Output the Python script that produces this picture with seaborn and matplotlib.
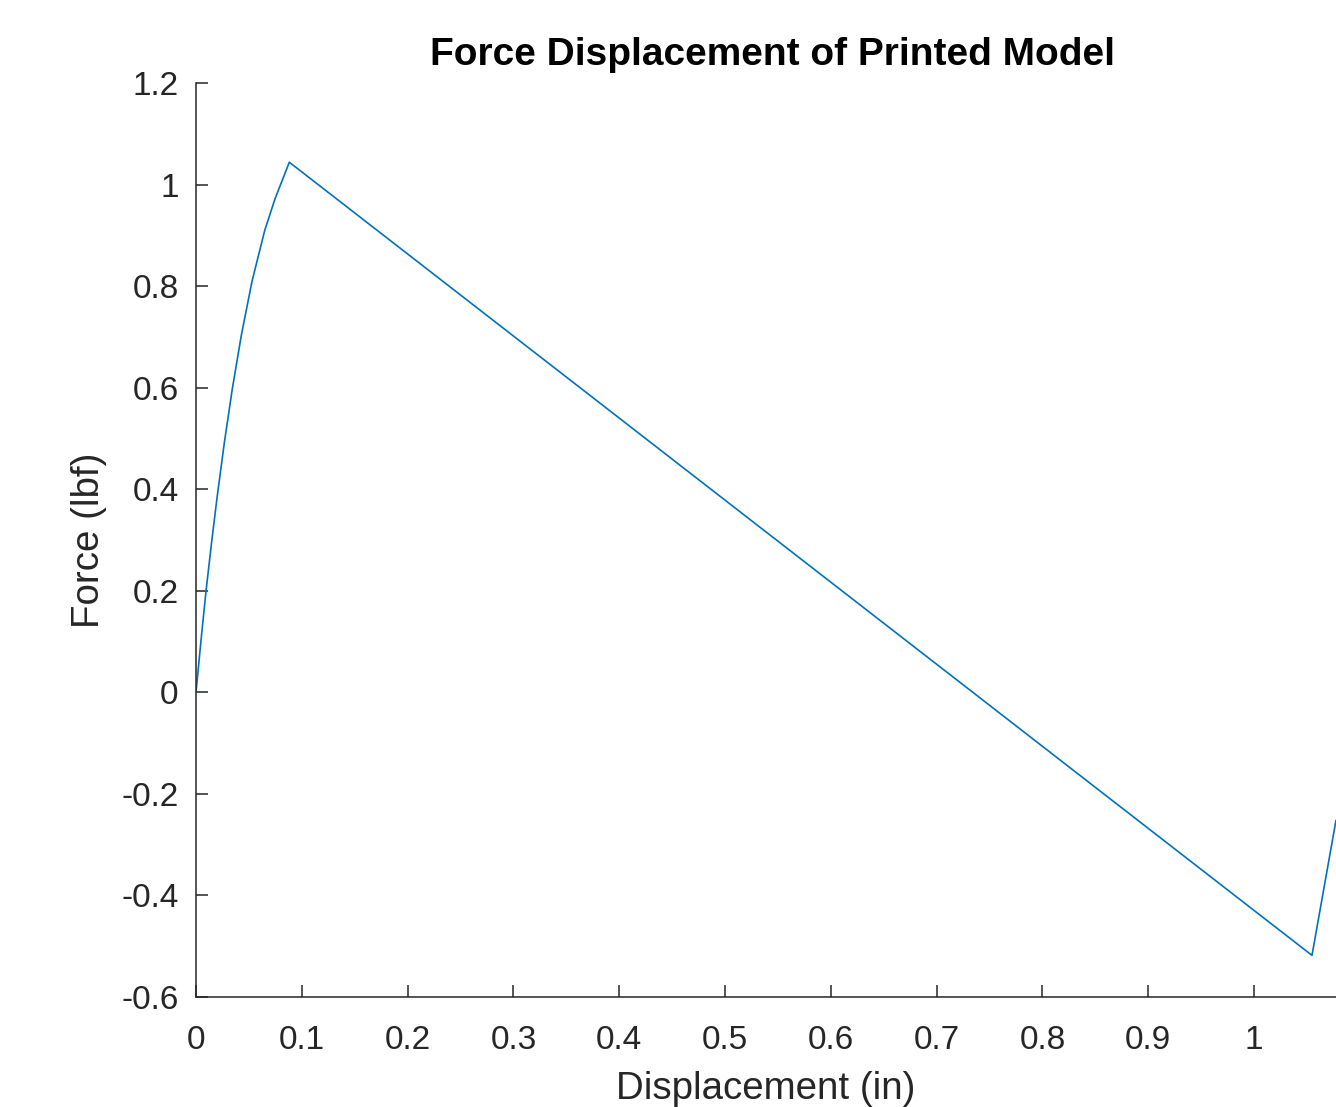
import matplotlib
matplotlib.use("Agg")
import matplotlib.pyplot as plt
import seaborn as sns
import pandas as pd

# Data
displacement = [0.0, 0.005, 0.0095, 0.015, 0.02, 0.027, 0.0345, 0.043, 0.053, 0.065, 0.0747, 0.0882, 1.0548, 1.0775]
force = [0.0, 0.108, 0.2, 0.3, 0.385, 0.495, 0.6, 0.705, 0.81, 0.91, 0.972, 1.044, -0.518, -0.252]

x_ticks = [0, 0.1, 0.2, 0.3, 0.4, 0.5, 0.6, 0.7, 0.8, 0.9, 1.0]
x_tick_labels = ["0", "0.1", "0.2", "0.3", "0.4", "0.5", "0.6", "0.7", "0.8", "0.9", "1"]
y_ticks = [-0.6, -0.4, -0.2, 0, 0.2, 0.4, 0.6, 0.8, 1.0, 1.2]
y_tick_labels = ["-0.6", "-0.4", "-0.2", "0", "0.2", "0.4", "0.6", "0.8", "1", "1.2"]

title = "Force Displacement of Printed Model"
x_label = "Displacement (in)"
y_label = "Force (lbf)"

sns.set_theme(style="ticks")
plt.rcParams["font.family"] = ["Liberation Sans", "DejaVu Sans"]

df = pd.DataFrame({"x": displacement, "y": force})

fig = plt.figure(figsize=(13.36, 11.07), dpi=100)
ax = fig.add_axes([196 / 1336, 1 - 997 / 1107, 1 - 196 / 1336, (997 - 83) / 1107])

sns.lineplot(data=df, x="x", y="y", sort=False, estimator=None, ax=ax,
             color="#0072BD", linewidth=1.2)

ax.set_xlim(0, 1.0775)
ax.set_ylim(-0.6, 1.2)
ax.set_xticks(x_ticks)
ax.set_xticklabels(x_tick_labels)
ax.set_yticks(y_ticks)
ax.set_yticklabels(y_tick_labels)

for s in ["top", "right"]:
    ax.spines[s].set_visible(False)
for s in ["left", "bottom"]:
    ax.spines[s].set_color("#262626")
    ax.spines[s].set_linewidth(1.1)

ax.tick_params(direction="in", length=8.5, width=1.1, color="#262626",
               labelcolor="#262626", labelsize=24)
ax.tick_params(axis="y", pad=12.5)
ax.tick_params(axis="x", pad=20)

ax.set_xlabel(x_label, fontsize=27.7, color="#262626", labelpad=11)
ax.set_ylabel(y_label, fontsize=27.7, color="#262626", labelpad=10)
ax.set_title(title, fontsize=28, fontweight="bold", color="black", pad=13, x=0.506)

fig.savefig("out.png", dpi=100)
